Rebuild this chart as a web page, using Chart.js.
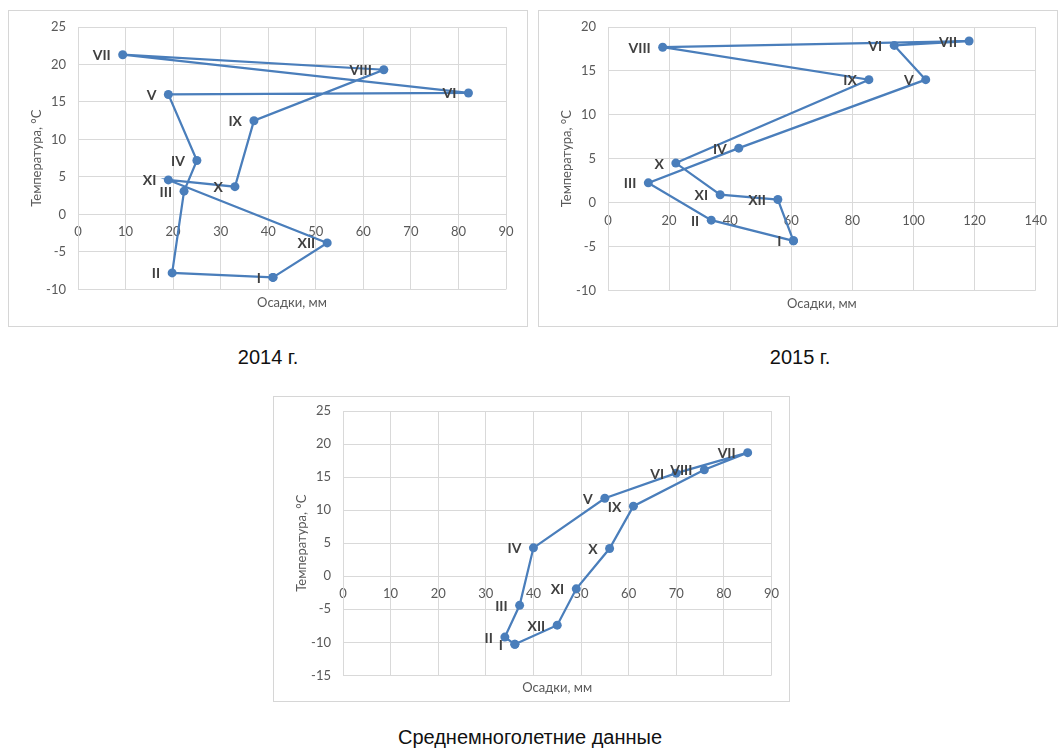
<!DOCTYPE html>
<html lang="ru">
<head>
<meta charset="utf-8">
<title>Климатограммы: осадки и температура</title>
<script src="https://cdn.jsdelivr.net/npm/chart.js@4"></script>
<style>
  html, body { margin: 0; padding: 0; background: #ffffff; }
  body { width: 1061px; height: 748px; position: relative; overflow: hidden; }
  .panel { position: absolute; border: 1px solid #d6d6d6; background: #fff; }
  .panel canvas { display: block; }
  .caption {
    position: absolute; text-align: center; color: #111;
    font-family: "Liberation Sans", Arial, sans-serif; font-size: 20px; line-height: 24px;
  }
</style>
</head>
<body>
<div class="panel" style="left:8px; top:10px;"><canvas id="c2014" width="518" height="315"></canvas></div>
<div class="panel" style="left:538px; top:10px;"><canvas id="c2015" width="518" height="315"></canvas></div>
<div class="panel" style="left:273px; top:396px;"><canvas id="cAvg" width="515" height="304"></canvas></div>

<div class="caption" style="left:168px; top:345px; width:200px;">2014 г.</div>
<div class="caption" style="left:700px; top:345px; width:200px;">2015 г.</div>
<div class="caption" style="left:330px; top:725px; width:400px;">Среднемноголетние данные</div>

<script>
// Months (Roman numerals) used as point labels
const months = ['I', 'II', 'III', 'IV', 'V', 'VI', 'VII', 'VIII', 'IX', 'X', 'XI', 'XII'];

// 2014: monthly precipitation (mm) and mean temperature (°C)
const precip2014 = [41.0, 19.8, 22.3, 25.0, 19.0, 82.1, 9.4, 64.3, 37.0, 33.0, 19.0, 52.4];
const temp2014   = [-8.4, -7.8, 3.1, 7.2, 16.0, 16.2, 21.3, 19.3, 12.5, 3.7, 4.6, -3.8];

// 2015
const precip2015 = [60.7, 33.8, 13.2, 42.8, 104.0, 93.7, 118.2, 17.9, 85.4, 22.2, 36.7, 55.6];
const temp2015   = [-4.35, -2.0, 2.25, 6.2, 14.0, 17.9, 18.4, 17.7, 14.0, 4.5, 0.9, 0.35];

// Long-term averages
const precipAvg = [36.1, 34.0, 37.1, 40.0, 55.0, 70.0, 85.0, 75.9, 61.0, 56.0, 49.0, 45.0];
const tempAvg   = [-10.3, -9.2, -4.4, 4.3, 11.8, 15.6, 18.7, 16.1, 10.6, 4.2, -1.9, -7.4];

const LINE_COLOR = '#4a7ebb';
const GRID_COLOR = '#d9d9d9';
const TEXT_COLOR = '#595959';
const FONT = 'Lato, "Open Sans", "DejaVu Sans", sans-serif';

// Writes the month name to the left of each point
const monthLabels = {
  id: 'monthLabels',
  afterDatasetsDraw(chart) {
    const ctx = chart.ctx;
    const meta = chart.getDatasetMeta(0);
    ctx.save();
    ctx.font = 'bold 14px ' + FONT;
    ctx.fillStyle = '#404040';
    ctx.textAlign = 'right';
    ctx.textBaseline = 'middle';
    months.forEach((m, i) => {
      const el = meta.data[i];
      if (el) ctx.fillText(m, el.x - 12, el.y + 1);
    });
    ctx.restore();
  }
};

function makeChart(id, xs, ys, xr, yr, pad, titlePadTop) {
  // closed loop: the year's last month connects back to the first
  const pts = months.map((_, i) => ({ x: xs[i], y: ys[i] }));
  pts.push({ x: xs[0], y: ys[0] });

  return new Chart(document.getElementById(id), {
    type: 'scatter',
    data: {
      datasets: [{
        data: pts,
        showLine: true,
        borderColor: LINE_COLOR,
        backgroundColor: LINE_COLOR,
        borderWidth: 2.25,
        pointRadius: 4.5,
        pointHoverRadius: 4.5,
        pointBorderWidth: 0,
        tension: 0
      }]
    },
    options: {
      responsive: false,
      animation: false,
      events: [],
      layout: { padding: pad },
      plugins: {
        legend: { display: false },
        tooltip: { enabled: false },
        title: {
          display: true,
          position: 'bottom',
          fullSize: false,
          text: 'Осадки, мм',
          color: TEXT_COLOR,
          font: { family: FONT, size: 13, weight: 'normal', lineHeight: 1.2 },
          padding: { top: titlePadTop, bottom: 0 }
        }
      },
      scales: {
        x: {
          type: 'linear',
          position: { y: 0 },
          min: xr[0], max: xr[1],
          ticks: { stepSize: xr[2], color: TEXT_COLOR, padding: 10,
                   font: { family: FONT, size: 13 } },
          grid: { color: GRID_COLOR, drawTicks: false, lineWidth: 1 },
          border: { color: GRID_COLOR, width: 1 }
        },
        y: {
          type: 'linear',
          position: 'left',
          min: yr[0], max: yr[1],
          ticks: { stepSize: yr[2], color: TEXT_COLOR, padding: 12,
                   font: { family: FONT, size: 13 } },
          grid: { color: GRID_COLOR, drawTicks: false, lineWidth: 1 },
          border: { color: GRID_COLOR, width: 1 },
          title: {
            display: true,
            text: 'Температура, °C',
            color: TEXT_COLOR,
            font: { family: FONT, size: 13, lineHeight: 1.2 },
            padding: { top: 20, bottom: 0 }
          },
          afterFit(scale) {
            scale.width = 69;
            scale.paddingTop = 0;
            scale.paddingBottom = 0;
          }
        }
      }
    },
    plugins: [monthLabels]
  });
}

makeChart('c2014', precip2014, temp2014, [0, 90, 10], [-10, 25, 5],
          { left: 0, right: 21, top: 16, bottom: 15 }, 6);
makeChart('c2015', precip2015, temp2015, [0, 140, 20], [-10, 20, 5],
          { left: 0, right: 20, top: 16, bottom: 14 }, 6);
makeChart('cAvg', precipAvg, tempAvg, [0, 90, 10], [-15, 25, 5],
          { left: 0, right: 11, top: 14, bottom: 5 }, 5);
</script>
</body>
</html>
